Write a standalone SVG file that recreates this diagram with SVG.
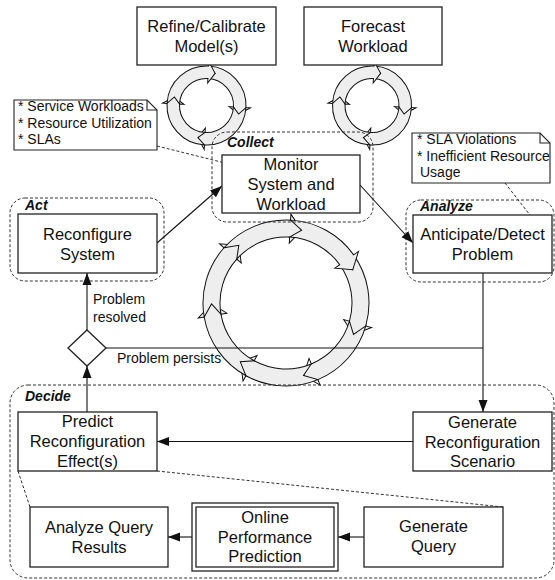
<svg xmlns="http://www.w3.org/2000/svg" xmlns:xlink="http://www.w3.org/1999/xlink" width="555" height="580" viewBox="0 0 555 580">
<style>
.box{fill:#fff;stroke:#222;stroke-width:1.3}
.grp{fill:none;stroke:#333;stroke-width:1;stroke-dasharray:3,2}
.t{font-family:"Liberation Sans",Arial,sans-serif;font-size:16.5px;fill:#111;text-anchor:middle}
.n{font-family:"Liberation Sans",Arial,sans-serif;font-size:14px;fill:#111}
.lb{font-family:"Liberation Sans",Arial,sans-serif;font-size:14px;font-weight:bold;font-style:italic;fill:#111}
.ring{fill:#eeeeee;stroke:#111;stroke-width:1}
.con{fill:none;stroke:#111;stroke-width:1.1}
.dash{fill:none;stroke:#333;stroke-width:1;stroke-dasharray:3,2}
</style>
<defs>
<marker id="ah" viewBox="0 0 12 10" refX="12" refY="5" markerWidth="12" markerHeight="10" orient="auto" markerUnits="userSpaceOnUse"><path d="M0,0.5 L12,5 L0,9.5 z" fill="#111"/></marker>
<path id="segS" class="ring" d="M39.5,0 A39.5,39.5 0 0 1 0,39.5 L0,44 L-6.91,32.52 L0,22.5 L0,27 A27,27 0 0 0 27,0 L32.52,6.91 Z"/>
<path id="segL" class="ring" d="M83,0 A83,83 0 0 1 51.75,64.89 L55.49,69.58 L36.77,64.80 L37.41,46.91 L41.15,51.60 A66,66 0 0 0 66,0 L73.58,11.65 Z"/>
</defs>

<g id="cycle-refine">
<use xlink:href="#segS" transform="translate(206.5,105.5) rotate(-87)"/>
<use xlink:href="#segS" transform="translate(206.5,105.5) rotate(3)"/>
<use xlink:href="#segS" transform="translate(206.5,105.5) rotate(93)"/>
<use xlink:href="#segS" transform="translate(206.5,105.5) rotate(183)"/>
</g>
<g id="cycle-forecast">
<use xlink:href="#segS" transform="translate(372,105.5) rotate(-87)"/>
<use xlink:href="#segS" transform="translate(372,105.5) rotate(3)"/>
<use xlink:href="#segS" transform="translate(372,105.5) rotate(93)"/>
<use xlink:href="#segS" transform="translate(372,105.5) rotate(183)"/>
</g>
<g id="cycle-main">
<use xlink:href="#segL" transform="translate(286,303) rotate(-35.43)"/>
<use xlink:href="#segL" transform="translate(286,303) rotate(16)"/>
<use xlink:href="#segL" transform="translate(286,303) rotate(67.43)"/>
<use xlink:href="#segL" transform="translate(286,303) rotate(118.86)"/>
<use xlink:href="#segL" transform="translate(286,303) rotate(170.29)"/>
<use xlink:href="#segL" transform="translate(286,303) rotate(221.71)"/>
<use xlink:href="#segL" transform="translate(286,303) rotate(273.14)"/>
</g>

<g id="group-collect"><rect class="grp" x="212" y="132" width="161" height="90" rx="15"/><text class="lb" x="227" y="147">Collect</text></g>
<g id="group-analyze"><rect class="grp" x="406" y="200" width="148" height="82" rx="15"/><text class="lb" x="420" y="211">Analyze</text></g>
<g id="group-act"><rect class="grp" x="10" y="198" width="154" height="83" rx="15"/><text class="lb" x="25" y="210">Act</text></g>
<g id="group-decide"><rect class="grp" x="10" y="385" width="544" height="193" rx="18"/><text class="lb" x="25" y="401">Decide</text></g>

<g id="connectors">
<line class="con" x1="157" y1="243" x2="222" y2="186" marker-end="url(#ah)"/>
<line class="con" x1="360" y1="185" x2="413" y2="243" marker-end="url(#ah)"/>
<line class="con" x1="483" y1="273" x2="483" y2="412" marker-end="url(#ah)"/>
<line class="con" x1="106" y1="348" x2="483" y2="348"/>
<line class="con" x1="413" y1="441.5" x2="157" y2="441.5" marker-end="url(#ah)"/>
<line class="con" x1="87" y1="412" x2="87" y2="366" marker-end="url(#ah)"/>
<line class="con" x1="87" y1="330" x2="87" y2="273" marker-end="url(#ah)"/>
<line class="con" x1="364" y1="537" x2="338" y2="537" marker-end="url(#ah)"/>
<line class="con" x1="192" y1="537" x2="168" y2="537" marker-end="url(#ah)"/>
<line class="dash" x1="157" y1="146" x2="235" y2="165.5"/>
<circle cx="237.5" cy="166" r="2.6" fill="#fff" stroke="#111" stroke-width="1"/>
<line class="dash" x1="505" y1="183" x2="531.5" y2="217"/>
<circle cx="533" cy="219" r="2.6" fill="#fff" stroke="#111" stroke-width="1"/>
<line class="dash" x1="18" y1="471" x2="30" y2="507"/>
<line class="dash" x1="157" y1="471" x2="503" y2="507"/>
<text class="n" x="93" y="304">Problem</text>
<text class="n" x="93" y="322">resolved</text>
<text class="n" x="117" y="363">Problem persists</text>
</g>

<g id="node-refine"><rect class="box" x="137" y="7" width="139" height="58"/><text class="t" x="206.5" y="32">Refine/Calibrate</text><text class="t" x="206.5" y="52">Model(s)</text></g>
<g id="node-forecast"><rect class="box" x="304" y="7" width="138" height="58"/><text class="t" x="373" y="32">Forecast</text><text class="t" x="373" y="52">Workload</text></g>

<g id="note-collect">
<path d="M14,100 L147,100 L157,110 L157,150 L14,150 Z" fill="#fff" stroke="#222" stroke-width="1.1"/>
<path d="M147,100 L147,110 L157,110" fill="none" stroke="#222" stroke-width="1.1"/>
<text class="n" x="18" y="111">* Service Workloads</text>
<text class="n" x="18" y="127.5">* Resource Utilization</text>
<text class="n" x="18" y="144">* SLAs</text>
</g>
<g id="note-analyze">
<path d="M412,133 L540,133 L550,143 L550,183 L412,183 Z" fill="#fff" stroke="#222" stroke-width="1.1"/>
<path d="M540,133 L540,143 L550,143" fill="none" stroke="#222" stroke-width="1.1"/>
<text class="n" x="417" y="144">* SLA Violations</text>
<text class="n" x="417" y="161">* Inefficient Resource</text>
<text class="n" x="420" y="177">Usage</text>
</g>

<g id="node-monitor"><rect class="box" x="222" y="155" width="138" height="58"/><text class="t" x="291" y="170">Monitor</text><text class="t" x="291" y="190">System and</text><text class="t" x="291" y="210">Workload</text></g>
<g id="node-anticipate"><rect class="box" x="413" y="215" width="139" height="58"/><text class="t" x="482.5" y="240">Anticipate/Detect</text><text class="t" x="482.5" y="260">Problem</text></g>
<g id="node-reconfigure"><rect class="box" x="18" y="214" width="139" height="59"/><text class="t" x="87.5" y="239.5">Reconfigure</text><text class="t" x="87.5" y="259.5">System</text></g>
<g id="node-decision"><path d="M87,330 L106,348 L87,366 L68,348 Z" class="box"/></g>
<g id="node-predict"><rect class="box" x="18" y="412" width="139" height="59"/><text class="t" x="87.5" y="427">Predict</text><text class="t" x="87.5" y="447">Reconfiguration</text><text class="t" x="87.5" y="467">Effect(s)</text></g>
<g id="node-generate-scenario"><rect class="box" x="413" y="412" width="139" height="59"/><text class="t" x="482.5" y="427.5">Generate</text><text class="t" x="482.5" y="447.5">Reconfiguration</text><text class="t" x="482.5" y="467">Scenario</text></g>
<g id="node-analyze-query"><rect class="box" x="30" y="507" width="138" height="60"/><text class="t" x="99" y="532.5">Analyze Query</text><text class="t" x="99" y="552.5">Results</text></g>
<g id="node-online"><rect class="box" x="192" y="503" width="146" height="68"/><rect class="box" x="196" y="507" width="138" height="60"/><text class="t" x="265" y="523">Online</text><text class="t" x="265" y="542.5">Performance</text><text class="t" x="265" y="562">Prediction</text></g>
<g id="node-generate-query"><rect class="box" x="364" y="507" width="139" height="60"/><text class="t" x="433.5" y="532">Generate</text><text class="t" x="433.5" y="552">Query</text></g>
</svg>
